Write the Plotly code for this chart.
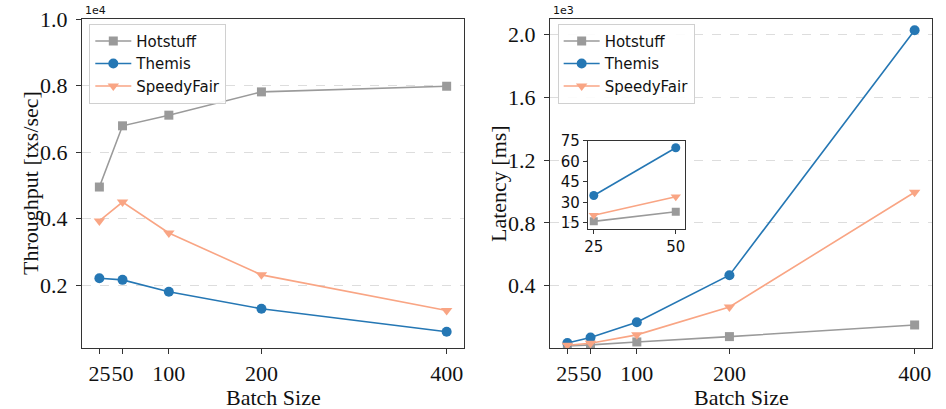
import plotly.graph_objects as go

batch = [25, 50, 100, 200, 400]
inset_batch = [25, 50]

thr_hotstuff = [4950, 6790, 7110, 7810, 7980]
thr_themis = [2210, 2160, 1800, 1290, 600]
thr_speedy = [3930, 4500, 3570, 2310, 1240]

lat_hotstuff = [16, 23, 42, 76, 150]
lat_themis = [35, 70, 167, 467, 2027]
lat_speedy = [20.5, 34, 87, 265, 995]

names = ["Hotstuff", "Themis", "SpeedyFair"]
colors = ["#9a9a9a", "#2577b4", "#f9a584"]
symbols = ["square", "circle", "triangle-down"]
msizes = [9, 10, 10]

x_ticks = [25, 50, 100, 200, 400]
thr_ticks = [0.2, 0.4, 0.6, 0.8, 1.0]
lat_ticks = [0.4, 0.8, 1.2, 1.6, 2.0]
inset_yticks = [15, 30, 45, 60, 75]
inset_xticks = [25, 50]

fig = go.Figure()

serif = "Liberation Serif"
sans = "DejaVu Sans"
axc = "#333333"

thr_sets = [thr_hotstuff, thr_themis, thr_speedy]
lat_sets = [lat_hotstuff, lat_themis, lat_speedy]

for i in range(3):
    fig.add_trace(go.Scatter(
        x=batch, y=[v / 1e4 for v in thr_sets[i]], name=names[i], mode="lines+markers",
        line=dict(color=colors[i], width=1.6),
        marker=dict(symbol=symbols[i], size=msizes[i], color=colors[i]),
        xaxis="x", yaxis="y", legend="legend", legendgroup="a%d" % i))
for i in range(3):
    fig.add_trace(go.Scatter(
        x=batch, y=[v / 1e3 for v in lat_sets[i]], name=names[i], mode="lines+markers",
        line=dict(color=colors[i], width=1.6),
        marker=dict(symbol=symbols[i], size=msizes[i], color=colors[i]),
        xaxis="x2", yaxis="y2", legend="legend2", legendgroup="b%d" % i))
for i in range(3):
    fig.add_trace(go.Scatter(
        x=inset_batch, y=lat_sets[i][:2], name=names[i], mode="lines+markers",
        line=dict(color=colors[i], width=1.6),
        marker=dict(symbol=symbols[i], size=msizes[i] - 1, color=colors[i]),
        xaxis="x3", yaxis="y3", showlegend=False))

common_x = dict(
    range=[6.25, 418.75], tickmode="array", tickvals=x_ticks,
    ticktext=[str(t) for t in x_ticks], ticks="outside", ticklen=5, tickwidth=1,
    tickcolor=axc, showline=True, linecolor=axc, linewidth=1.2, mirror=True,
    showgrid=False, zeroline=False, tickfont=dict(family=serif, size=22, color="#111"),
    automargin=False, tickangle=0,
)
common_y = dict(
    ticks="outside", ticklen=5, tickwidth=1, tickcolor=axc, showline=True,
    linecolor=axc, linewidth=1.2, mirror=True, showgrid=True, gridcolor="#dddddd",
    griddash="dash", gridwidth=1, zeroline=False, ticklabelstandoff=4,
    tickfont=dict(family=serif, size=22, color="#111"), tickmode="array",
    automargin=False, tickangle=0,
)

legend_common = dict(
    xanchor="left", yanchor="top", bgcolor="rgba(255,255,255,0.9)",
    bordercolor="#d0d0d0", borderwidth=1, font=dict(family=sans, size=15, color="#111"),
    tracegroupgap=0, itemwidth=36,
)

fig.update_layout(
    template="none",
    width=946, height=409, margin=dict(l=0, r=0, t=0, b=0, pad=0, autoexpand=False),
    paper_bgcolor="white", plot_bgcolor="white",
    xaxis=dict(common_x, domain=[0.0867, 0.4905], anchor="y"),
    yaxis=dict(common_y, domain=[0.149, 0.9535], anchor="x", range=[0.011, 1.0],
               tickvals=thr_ticks, ticktext=["%.1f" % t for t in thr_ticks]),
    xaxis2=dict(common_x, domain=[0.5814, 0.9852], anchor="y2"),
    yaxis2=dict(common_y, domain=[0.149, 0.9535], anchor="x2", range=[0.003, 2.098],
                tickvals=lat_ticks, ticktext=["%.1f" % t for t in lat_ticks]),
    xaxis3=dict(domain=[0.6216, 0.7244], anchor="y3", range=[23.25, 52.9],
                tickmode="array", tickvals=inset_xticks, ticktext=[str(t) for t in inset_xticks],
                ticks="outside", ticklen=4, tickcolor=axc, showline=True, linecolor=axc,
                linewidth=1.2, mirror=True, showgrid=False, zeroline=False, automargin=False,
                tickangle=0, tickfont=dict(family=sans, size=15, color="#111")),
    yaxis3=dict(domain=[0.4408, 0.6553], anchor="x3", range=[10.6, 75],
                tickmode="array", tickvals=inset_yticks, ticktext=[str(t) for t in inset_yticks],
                ticks="outside", ticklen=4, tickcolor=axc, showline=True, linecolor=axc,
                linewidth=1.2, mirror=True, showgrid=False, zeroline=False, automargin=False,
                tickangle=0, tickfont=dict(family=sans, size=15, color="#111")),
    legend=dict(legend_common, x=0.0944, y=0.942),
    legend2=dict(legend_common, x=0.5895, y=0.942),
    showlegend=True,
)

ann = [
    dict(text="Throughput [txs/sec]", x=30 / 946, y=1 - 183 / 409, textangle=-90,
         font=dict(family=serif, size=22, color="#111")),
    dict(text="Latency [ms]", x=498 / 946, y=1 - 183 / 409, textangle=-90,
         font=dict(family=serif, size=22, color="#111")),
    dict(text="Batch Size", x=273 / 946, y=1 - 397 / 409, font=dict(family=serif, size=22, color="#111")),
    dict(text="Batch Size", x=741 / 946, y=1 - 397 / 409, font=dict(family=serif, size=22, color="#111")),
    dict(text="1e4", x=83 / 946, y=1 - 11 / 409, xanchor="left",
         font=dict(family=sans, size=11, color="#111")),
    dict(text="1e3", x=551 / 946, y=1 - 11 / 409, xanchor="left",
         font=dict(family=sans, size=11, color="#111")),
]
for a in ann:
    a.setdefault("xanchor", "center")
    a.update(xref="paper", yref="paper", showarrow=False, yanchor="middle")
fig.update_layout(annotations=ann)

fig.write_html("out.html", config={"displayModeBar": False},
               post_script="document.body.style.margin='0';")
